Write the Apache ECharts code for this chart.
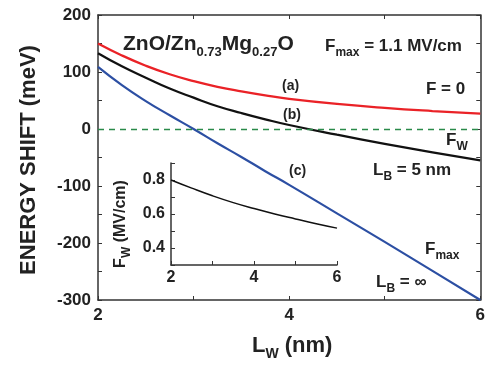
<!DOCTYPE html>
<html>
<head>
<meta charset="utf-8">
<script src="https://cdn.jsdelivr.net/npm/echarts@6/dist/echarts.min.js"></script>
<style>
  html, body { margin: 0; padding: 0; background: #fff; }
  #chart { width: 488px; height: 369px; }
</style>
</head>
<body>
<div id="chart"></div>
<script>
// well width L_W (nm) sampled for the main curves
const lwMain = [2, 2.25, 2.5, 2.75, 3, 3.25, 3.5, 3.75, 4, 4.5, 5, 5.5, 6]
// (a) F = 0
const shiftA = [150, 129, 111, 96, 84, 74, 66, 59, 53, 44, 37, 31.5, 27]
// (b) F_W, L_B = 5 nm
const shiftB = [133, 110, 90, 71, 55, 40, 28, 17, 7, -10, -26, -41, -55]
// (c) F_max, L_B = inf
const shiftC = [109, 77, 49, 24, 0, -25, -49, -74, -98, -148, -198, -249, -300]

// inset: F_W vs L_W
const lwInset = [2, 2.5, 3, 3.5, 4, 4.5, 5, 5.5, 6]
const fwInset = [0.80, 0.752, 0.707, 0.667, 0.632, 0.600, 0.571, 0.543, 0.517]

const xTickLabels = [2, 4, 6]
const yTickLabels = [-300, -200, -100, 0, 100, 200]
const insetYLabels = [0.4, 0.6, 0.8]

const FONT = '"Liberation Sans", Arial, sans-serif'
const AXIS_COLOR = '#333'

const pairs = (xs, ys) => xs.map((x, i) => [x, ys[i]])

const chart = echarts.init(document.getElementById('chart'))

const mainX = (pos, show) => ({
  type: 'value',
  gridIndex: 0,
  position: pos,
  min: 2,
  max: 6,
  interval: 1,
  axisLine: { show: true, onZero: false, lineStyle: { color: AXIS_COLOR, width: 1.5 } },
  axisTick: { show: true, inside: true, length: 4, lineStyle: { color: AXIS_COLOR } },
  splitLine: { show: false },
  axisLabel: {
    show: show,
    margin: 7,
    fontFamily: FONT,
    fontWeight: 'bold',
    fontSize: 17,
    color: '#222',
    formatter: v => (xTickLabels.indexOf(v) >= 0 ? String(v) : '')
  }
})

const mainY = (pos, show) => ({
  type: 'value',
  gridIndex: 0,
  position: pos,
  min: -300,
  max: 200,
  interval: 50,
  axisLine: { show: true, onZero: false, lineStyle: { color: AXIS_COLOR, width: 1.5 } },
  axisTick: { show: true, inside: true, length: 4, lineStyle: { color: AXIS_COLOR } },
  splitLine: { show: false },
  axisLabel: {
    show: show,
    margin: 7,
    fontFamily: FONT,
    fontWeight: 'bold',
    fontSize: 17,
    color: '#222',
    formatter: v => (yTickLabels.indexOf(v) >= 0 ? String(v) : '')
  }
})

const rt = (txt, x, y, size) => ({
  type: 'text',
  left: x,
  top: y,
  style: { text: txt, fontFamily: FONT, fontWeight: 'bold', fontSize: size, fill: '#222' }
})

// rich text with subscripts
const richSub = (main, sub) => ({
  m: { fontFamily: FONT, fontWeight: 'bold', fontSize: main, lineHeight: main + 8, verticalAlign: 'middle', fill: '#222', color: '#222' },
  s: { fontFamily: FONT, fontWeight: 'bold', fontSize: sub, lineHeight: 6, verticalAlign: 'bottom', fill: '#222', color: '#222' }
})

const subText = (txt, x, y, main, sub) => ({
  type: 'text',
  x: x,
  y: y,
  style: { text: txt, rich: richSub(main, sub), align: 'left', verticalAlign: 'middle' }
})

const curve = (xs, ys, color, width, xi, yi) => ({
  type: 'line',
  xAxisIndex: xi,
  yAxisIndex: yi,
  data: pairs(xs, ys),
  smooth: 0.5,
  symbol: 'none',
  lineStyle: { color: color, width: width }
})

const zeroLine = Object.assign(curve(lwMain, shiftA, '#ea2227', 2.3, 0, 0), {
  markLine: {
    silent: true,
    symbol: 'none',
    label: { show: false },
    lineStyle: { color: '#2a8a4a', type: [6, 5], width: 1.3 },
    data: [{ yAxis: 0 }]
  }
})

const option = {
  animation: false,
  backgroundColor: '#fff',
  grid: [
    { left: 98, top: 15, right: 5, bottom: 69 },
    { left: 171, top: 163, right: 151, bottom: 104 }
  ],
  xAxis: [
    mainX('bottom', true),
    mainX('top', false),
    {
      type: 'value',
      gridIndex: 1,
      min: 2,
      max: 6,
      interval: 1,
      axisLine: { show: true, onZero: false, lineStyle: { color: AXIS_COLOR, width: 1.5 } },
      axisTick: { show: true, inside: true, length: 4, lineStyle: { color: AXIS_COLOR } },
      splitLine: { show: false },
      axisLabel: {
        margin: 5,
        fontFamily: FONT,
        fontWeight: 'bold',
        fontSize: 16,
        color: '#222',
        formatter: v => (xTickLabels.indexOf(v) >= 0 ? String(v) : '')
      }
    }
  ],
  yAxis: [
    mainY('left', true),
    mainY('right', false),
    {
      type: 'value',
      gridIndex: 1,
      min: 0.3,
      max: 0.9,
      interval: 0.1,
      axisLine: { show: true, onZero: false, lineStyle: { color: AXIS_COLOR, width: 1.5 } },
      axisTick: { show: true, inside: true, length: 4, lineStyle: { color: AXIS_COLOR } },
      splitLine: { show: false },
      axisLabel: {
        margin: 6,
        fontFamily: FONT,
        fontWeight: 'bold',
        fontSize: 16,
        color: '#222',
        formatter: v => {
          const r = Math.round(v * 10) / 10
          return insetYLabels.indexOf(r) >= 0 ? r.toFixed(1) : ''
        }
      }
    }
  ],
  series: [
    zeroLine,
    curve(lwMain, shiftB, '#111', 2.2, 0, 0),
    curve(lwMain, shiftC, '#2c4fa3', 2.2, 0, 0),
    curve(lwInset, fwInset, '#111', 1.5, 2, 2)
  ],
  graphic: [
    // y axis title
    {
      type: 'text',
      x: 29,
      y: 160,
      rotation: Math.PI / 2,
      style: {
        text: 'ENERGY SHIFT (meV)',
        fontFamily: FONT,
        fontWeight: 'bold',
        fontSize: 22,
        fill: '#222',
        align: 'center',
        verticalAlign: 'middle'
      }
    },
    // x axis title
    subText('{m|L}{s|W}{m| (nm)}', 252, 346, 22, 14),
    // material label
    subText('{m|ZnO/Zn}{s|0.73}{m|Mg}{s|0.27}{m|O}', 123, 44, 21, 13),
    subText('{m|F}{s|max}{m| = 1.1 MV/cm}', 325, 46, 17, 12),
    rt('(a)', 282, 79, 14),
    rt('(b)', 283, 108, 14),
    rt('(c)', 289, 164, 14),
    rt('F = 0', 426, 81, 17),
    subText('{m|F}{s|W}', 446, 140, 17, 12),
    subText('{m|L}{s|B}{m| = 5 nm}', 373, 170, 17, 12),
    subText('{m|F}{s|max}', 425, 249, 17, 12),
    subText('{m|L}{s|B}{m| = ∞}', 376, 282, 17, 12),
    // inset y title
    {
      type: 'text',
      x: 121,
      y: 224,
      rotation: Math.PI / 2,
      style: {
        text: '{m|F}{s|W}{m| (MV/cm)}',
        rich: richSub(16, 12),
        align: 'center',
        verticalAlign: 'middle'
      }
    }
  ]
}

chart.setOption(option)
</script>
</body>
</html>
